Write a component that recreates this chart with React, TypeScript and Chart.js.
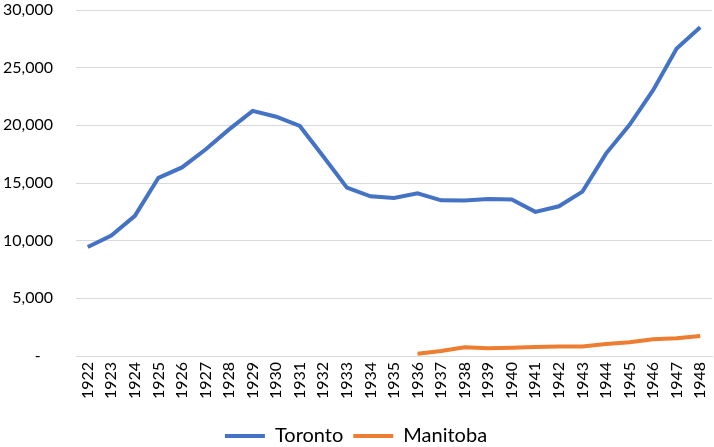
import React, { useEffect, useRef } from "react";
import { Chart, registerables } from "chart.js";

Chart.register(...registerables);

const years = [
  "1922", "1923", "1924", "1925", "1926", "1927", "1928", "1929", "1930",
  "1931", "1932", "1933", "1934", "1935", "1936", "1937", "1938", "1939",
  "1940", "1941", "1942", "1943", "1944", "1945", "1946", "1947", "1948",
];

const toronto = [
  9450, 10450, 12150, 15450, 16350, 17900, 19650, 21250, 20750,
  19950, 17300, 14600, 13850, 13700, 14100, 13500, 13480, 13620,
  13580, 12500, 12980, 14250, 17550, 20050, 23050, 26650, 28500,
];

const manitoba = [
  null, null, null, null, null, null, null, null, null,
  null, null, null, null, null, 200, 430, 760, 680,
  720, 770, 830, 820, 1050, 1200, 1460, 1540, 1740,
];

const FONT = "Lato, 'Open Sans', sans-serif";

export default function App() {
  const ref = useRef<HTMLCanvasElement | null>(null);

  useEffect(() => {
    document.body.style.margin = "0";
    const canvas = ref.current;
    if (!canvas) return;
    const chart = new Chart(canvas, {
      type: "line",
      data: {
        labels: years,
        datasets: [
          {
            label: "Toronto",
            data: toronto,
            borderColor: "#4472C4",
            backgroundColor: "#4472C4",
            borderWidth: 4,
            pointRadius: 0,
            tension: 0,
          },
          {
            label: "Manitoba",
            data: manitoba as any,
            borderColor: "#ED7D31",
            backgroundColor: "#ED7D31",
            borderWidth: 4,
            pointRadius: 0,
            tension: 0,
          },
        ],
      },
      options: {
        animation: false,
        responsive: false,
        layout: { padding: { top: 10, right: 2, left: 0, bottom: -9 } },
        plugins: {
          tooltip: { enabled: false },
          legend: {
            position: "bottom",
            labels: {
              usePointStyle: true,
              pointStyle: "line",
              pointStyleWidth: 40,
              boxHeight: 20,
              padding: 10,
              color: "#000",
              font: { family: FONT, size: 20 },
            },
          },
        },
        scales: {
          x: {
            offset: true,
            grid: {
              display: true,
              drawOnChartArea: false,
              drawTicks: true,
              tickLength: 6,
              tickColor: "rgba(0,0,0,0)",
            },
            border: { display: true, color: "#d9d9d9" },
            ticks: {
              color: "#000",
              font: { family: FONT, size: 16 },
              minRotation: 90,
              maxRotation: 90,
              autoSkip: false,
              padding: 0,
            },
            afterFit: (scale: any) => {
              scale.height = 60;
              scale.paddingRight = 0;
              scale.paddingLeft = 0;
            },
          },
          y: {
            min: 0,
            max: 30000,
            grid: {
              color: "#d9d9d9",
              drawTicks: true,
              tickLength: 23,
              tickColor: "rgba(0,0,0,0)",
              lineWidth: 1,
            },
            border: { display: false },
            ticks: {
              stepSize: 5000,
              padding: 0,
              color: "#000",
              font: { family: FONT, size: 16 },
              callback: (v: any) =>
                Number(v) === 0 ? "-   " : Number(v).toLocaleString("en-US"),
            },
            afterFit: (scale: any) => {
              scale.width = 76;
            },
          },
        },
      },
    });
    return () => chart.destroy();
  }, []);

  return (
    <div style={{ width: 714, height: 447, background: "#fff" }}>
      <canvas ref={ref} width={714} height={447} style={{ display: "block" }} />
    </div>
  );
}
